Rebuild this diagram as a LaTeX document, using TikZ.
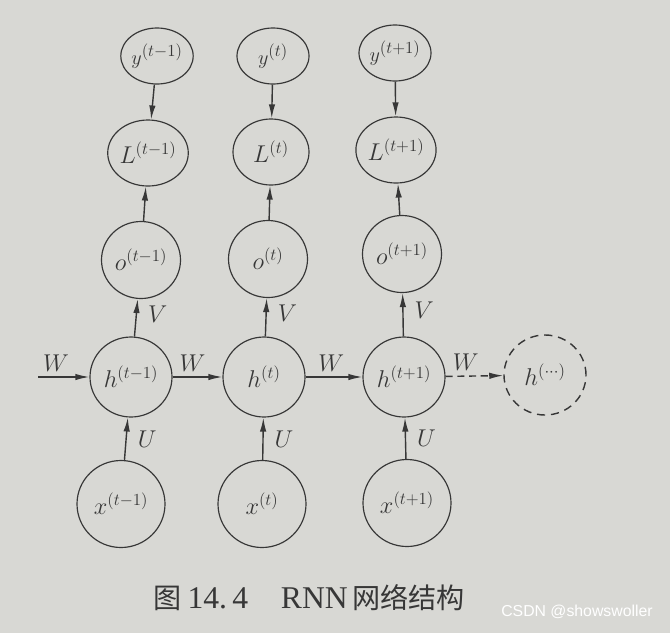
\documentclass[tikz,border=0pt]{standalone}
\usepackage{fontspec}
\setmainfont{Liberation Serif}
\newfontfamily\cjk{Noto Sans CJK SC}
\newfontfamily\wmark{Liberation Sans}
\usetikzlibrary{positioning,arrows.meta,shapes.geometric}
\definecolor{paper}{RGB}{216,216,212}
\definecolor{ink}{RGB}{55,55,55}

\begin{document}
\begin{tikzpicture}[
  x=0.03cm, y=-0.03cm,
  >={Latex[length=12pt,width=5.5pt]},
  unit/.style={draw=ink, ellipse, line width=1pt, inner sep=0pt, text=ink,
    font=\fontsize{22}{24}\selectfont},
  yunit/.style={unit, minimum width=2.16cm, minimum height=1.68cm,
    font=\fontsize{19}{21}\selectfont},
  lunit/.style={unit, minimum width=2.28cm, minimum height=1.98cm},
  ounit/.style={unit, minimum width=2.37cm, minimum height=2.31cm},
  hunit/.style={unit, minimum width=2.46cm, minimum height=2.4cm},
  xunit/.style={unit, minimum width=2.64cm, minimum height=2.61cm},
  ghost/.style={hunit, dash pattern=on 7pt off 5pt, line width=1.2pt},
  arrow/.style={->, draw=ink, line width=1.2pt},
  wlabel/.style={above=1pt, text=ink, font=\fontsize{21}{23}\selectfont},
  slabel/.style={right=6pt, text=ink, font=\fontsize{21}{23}\selectfont}
]
\fill[paper] (0,0) rectangle (670,633);

% outputs and losses
\node[yunit] (y1) at (157,56) {$y^{(t-1)}$};
\node[yunit] (y2) at (273,56) {$y^{(t)}$};
\node[yunit] (y3) at (395,53) {$y^{(t+1)}$};
\node[lunit] (L1) at (148,153) {$L^{(t-1)}$};
\node[lunit] (L2) at (271,152) {$L^{(t)}$};
\node[lunit] (L3) at (396,150) {$L^{(t+1)}$};
\node[ounit] (o1) at (141,260) {$o^{(t-1)}$};
\node[ounit] (o2) at (268,259) {$o^{(t)}$};
\node[ounit] (o3) at (402,254) {$o^{(t+1)}$};

% hidden states and inputs
\node[hunit] (h1) at (131,377) {$h^{(t-1)}$};
\node[hunit] (h2) at (264,377) {$h^{(t)}$};
\node[hunit] (h3) at (404,377) {$h^{(t+1)}$};
\node[ghost] (h4) at (545,375) {$h^{(\cdots)}$};
\node[xunit] (x1) at (121,504) {$x^{(t-1)}$};
\node[xunit] (x2) at (262,504) {$x^{(t)}$};
\node[xunit] (x3) at (407,503) {$x^{(t+1)}$};
\coordinate (hin) at (38,377);

\draw[arrow] (y1) -- (L1);
\draw[arrow] (y2) -- (L2);
\draw[arrow] (y3) -- (L3);
\draw[arrow] (o1) -- (L1);
\draw[arrow] (o2) -- (L2);
\draw[arrow] (o3) -- (L3);
\draw[arrow] (h1) -- node[slabel, pos=0.6] {$V$} (o1);
\draw[arrow] (h2) -- node[slabel, pos=0.6] {$V$} (o2);
\draw[arrow] (h3) -- node[slabel, pos=0.6] {$V$} (o3);
\draw[arrow] (x1) -- node[slabel, pos=0.5] {$U$} (h1);
\draw[arrow] (x2) -- node[slabel, pos=0.5] {$U$} (h2);
\draw[arrow] (x3) -- node[slabel, pos=0.5] {$U$} (h3);
\draw[arrow] (hin) -- node[wlabel, pos=0.35] {$W$} (h1);
\draw[arrow] (h1) -- node[wlabel, pos=0.4] {$W$} (h2);
\draw[arrow] (h2) -- node[wlabel, pos=0.45] {$W$} (h3);
\draw[arrow, dash pattern=on 6pt off 4pt] (h3) -- node[wlabel, pos=0.35] {$W$} (h4);

\node[text=ink, font=\fontsize{24}{26}\selectfont] (cap) at (309,598)
  {\cjk 图\ {\rmfamily\fontsize{27}{28}\selectfont 14.\,4}\quad\,{\rmfamily\fontsize{27}{28}\selectfont RNN}\,网络结构};
\node[text=white, font=\wmark\fontsize{13.5}{15}\selectfont] (wm) at (577,612) {CSDN @showswoller};
\end{tikzpicture}
\end{document}
